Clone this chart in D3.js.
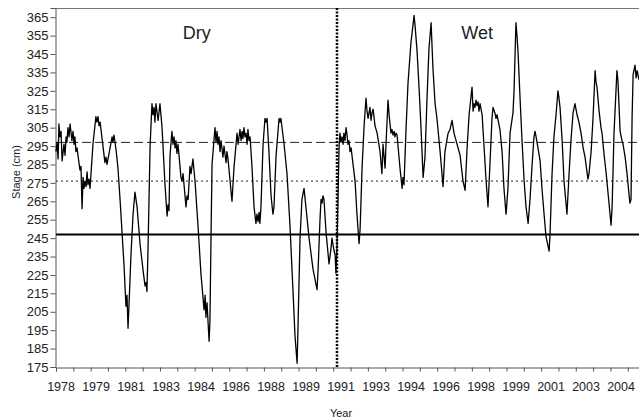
<!DOCTYPE html>
<html>
<head>
<meta charset="utf-8">
<script src="https://cdn.jsdelivr.net/npm/d3@7"></script>
<style>
body { margin: 0; background: #fff; }
text { font-family: "Liberation Sans", Arial, sans-serif; fill: #222; }
</style>
</head>
<body>
<div id="chart"></div>
<script>
// stage readings [decimal year, stage cm]
var dryRecord = [
  [1978.00,292],[1978.05,297],[1978.10,288],[1978.14,307],[1978.19,300],[1978.24,303],[1978.29,287],[1978.38,296],
  [1978.43,290],[1978.48,300],[1978.52,297],[1978.57,305],[1978.62,300],[1978.67,307],[1978.76,298],[1978.81,303],
  [1978.86,296],[1978.90,300],[1978.95,292],[1979.00,294],[1979.14,282],[1979.19,284],[1979.24,261],[1979.29,278],
  [1979.33,272],[1979.38,276],[1979.43,273],[1979.48,281],[1979.52,274],[1979.57,277],[1979.62,272],[1979.76,296],
  [1979.90,311],[1979.95,308],[1980.00,311],[1980.05,306],[1980.10,308],[1980.33,286],[1980.38,289],[1980.43,285],
  [1980.67,300],[1980.71,297],[1980.76,301],[1980.86,293],[1980.95,283],[1981.05,266],[1981.24,230],[1981.33,208],
  [1981.38,214],[1981.43,196],[1981.48,210],[1981.57,236],[1981.67,258],[1981.76,270],[1981.86,262],[1982.00,242],
  [1982.14,228],[1982.24,219],[1982.29,221],[1982.33,216],[1982.38,238],[1982.48,295],[1982.57,318],[1982.62,312],
  [1982.67,316],[1982.71,308],[1982.76,318],[1982.86,309],[1982.95,318],[1983.05,305],[1983.19,274],[1983.29,257],
  [1983.33,263],[1983.38,260],[1983.43,290],[1983.52,303],[1983.57,296],[1983.62,300],[1983.67,294],[1983.71,298],
  [1983.76,291],[1983.81,296],[1983.95,278],[1984.00,276],[1984.05,280],[1984.19,262],[1984.24,268],[1984.29,266],
  [1984.38,284],[1984.43,280],[1984.52,288],[1984.62,276],[1984.76,252],[1984.90,226],[1985.05,206],[1985.10,214],
  [1985.14,202],[1985.19,210],[1985.29,189],[1985.33,200],[1985.38,245],[1985.43,285],[1985.57,305],[1985.62,297],
  [1985.67,303],[1985.71,296],[1985.76,300],[1985.81,292],[1985.86,298],[1985.95,289],[1986.00,295],[1986.10,286],
  [1986.14,292],[1986.19,288],[1986.38,265],[1986.48,284],[1986.62,302],[1986.67,296],[1986.76,304],[1986.81,298],
  [1986.86,303],[1986.90,299],[1986.95,305],[1987.00,300],[1987.05,302],[1987.10,296],[1987.14,304],[1987.19,298],
  [1987.24,300],[1987.33,284],[1987.43,262],[1987.52,253],[1987.57,258],[1987.62,254],[1987.67,259],[1987.71,253],
  [1987.76,262],[1987.86,296],[1987.95,310],[1988.00,308],[1988.05,310],[1988.14,292],[1988.24,268],[1988.33,258],
  [1988.38,262],[1988.48,290],[1988.62,310],[1988.67,308],[1988.71,310],[1988.86,296],[1989.00,280],[1989.14,252],
  [1989.29,215],[1989.38,192],[1989.48,177],[1989.52,195],[1989.62,245],[1989.71,266],[1989.81,272],[1989.90,262],
  [1990.05,245],[1990.24,228],[1990.43,217],[1990.48,228],[1990.57,255],[1990.62,266],[1990.67,264],[1990.71,268],
  [1990.76,266],[1990.86,248],[1991.00,231],[1991.10,240],[1991.14,245],[1991.24,238],[1991.29,236],[1991.33,226],
  [1991.38,240]
];
var wetRecord = [
  [1991.48,295],[1991.52,302],[1991.57,297],[1991.62,300],[1991.67,296],[1991.71,302],[1991.76,298],[1991.81,305],
  [1991.86,301],[1991.90,296],[1991.95,298],[1992.00,292],[1992.05,294],[1992.24,276],[1992.33,258],[1992.43,242],
  [1992.48,250],[1992.57,282],[1992.67,306],[1992.76,321],[1992.81,314],[1992.86,310],[1992.95,316],[1993.00,309],
  [1993.05,313],[1993.10,315],[1993.19,306],[1993.29,302],[1993.43,292],[1993.52,280],[1993.57,296],[1993.67,283],
  [1993.71,295],[1993.81,320],[1993.86,312],[1993.95,302],[1994.00,304],[1994.05,301],[1994.10,303],[1994.14,300],
  [1994.19,302],[1994.24,301],[1994.38,283],[1994.48,272],[1994.52,278],[1994.57,274],[1994.67,305],[1994.76,329],
  [1994.90,351],[1995.05,366],[1995.10,360],[1995.19,347],[1995.29,326],[1995.38,305],[1995.48,278],[1995.57,289],
  [1995.67,322],[1995.76,348],[1995.86,362],[1995.95,337],[1996.05,318],[1996.14,310],[1996.29,292],[1996.43,273],
  [1996.52,292],[1996.67,302],[1996.76,304],[1996.86,309],[1996.95,302],[1997.05,298],[1997.24,290],[1997.38,276],
  [1997.48,271],[1997.57,293],[1997.67,312],[1997.81,327],[1997.86,314],[1997.90,318],[1997.95,316],[1998.00,320],
  [1998.05,317],[1998.10,319],[1998.14,314],[1998.19,318],[1998.29,312],[1998.38,295],[1998.48,276],[1998.57,262],
  [1998.67,287],[1998.76,310],[1998.81,316],[1998.90,313],[1998.95,310],[1999.00,312],[1999.14,304],[1999.24,292],
  [1999.33,272],[1999.43,258],[1999.52,272],[1999.62,302],[1999.76,313],[1999.81,325],[1999.90,362],[1999.95,355],
  [2000.00,346],[2000.10,320],[2000.19,298],[2000.29,276],[2000.38,262],[2000.48,253],[2000.57,266],[2000.67,285],
  [2000.76,300],[2000.81,303],[2000.86,300],[2000.95,294],[2001.05,287],[2001.14,272],[2001.24,258],[2001.33,246],
  [2001.48,238],[2001.52,246],[2001.62,280],[2001.71,300],[2001.81,312],[2001.90,325],[2001.95,321],[2002.00,316],
  [2002.10,298],[2002.19,276],[2002.33,258],[2002.43,280],[2002.52,298],[2002.62,313],[2002.71,318],[2002.81,312],
  [2002.90,308],[2003.00,302],[2003.10,294],[2003.19,289],[2003.33,277],[2003.38,280],[2003.48,292],[2003.57,310],
  [2003.67,336],[2003.71,330],[2003.76,327],[2003.86,314],[2003.95,305],[2004.00,302],[2004.10,290],[2004.19,281],
  [2004.29,269],[2004.43,252],[2004.48,262],[2004.57,302],[2004.71,336],[2004.76,330],[2004.86,303],[2004.95,298],
  [2005.00,296],[2005.10,289],[2005.19,280],[2005.29,268],[2005.33,264],[2005.38,266],[2005.43,310],[2005.48,334],
  [2005.57,339],[2005.62,332],[2005.67,336],[2005.76,331]
];

var stageTicks = [175,185,195,205,215,225,235,245,255,265,275,285,295,305,315,325,335,345,355,365];
var yearLabels = ["1978","1979","1981","1983","1984","1986","1988","1989","1991",
                  "1993","1994","1996","1998","1999","2001","2003","2004"];
var periodNames = ["Dry", "Wet"];
var periodLabelYear = [1984.7, 1998.05];
var splitYear = 1991.38;
var lowLevel = 247, midLevel = 276, highLevel = 297;

var w = 639,
    h = 419,
    m = [8, 0, 52, 56]; // top right bottom left

var x = d3.scaleLinear().domain([1978, 2005.76]).range([m[3], w - m[1]]);
var y = d3.scaleLinear().domain([175, 370]).range([h - m[2], m[0]]);

var svg = d3.select("#chart").append("svg")
    .attr("width", w)
    .attr("height", h);

svg.append("rect").attr("width", w).attr("height", h).attr("fill", "#fff");

// top frame line
svg.append("line")
    .attr("x1", m[3]).attr("x2", w)
    .attr("y1", m[0] + 0.5).attr("y2", m[0] + 0.5)
    .attr("stroke", "#777").attr("stroke-width", 1);

// y axis
var yAxis = svg.append("g")
    .attr("transform", "translate(" + (m[3] - 0.5) + ",0)")
    .call(d3.axisLeft(y).tickValues(stageTicks).tickSize(5).tickPadding(2));
yAxis.selectAll("text").style("font-size", "13px").attr("fill", "#222");

// x axis: small ticks every ~0.825 yr, labels every 5/3 yr
var minorTicks = d3.range(1978, 2005.76, 0.825);
var labelPos = yearLabels.map(function(d, i) { return 1978.24 + i * 5 / 3; });

svg.append("g")
    .attr("transform", "translate(0," + (h - m[2] + 0.5) + ")")
    .call(d3.axisBottom(x).tickValues(minorTicks).tickSize(4).tickFormat(""));
svg.selectAll(".domain, .tick line").attr("stroke", "#555");

svg.append("g").selectAll("text.yr")
    .data(yearLabels)
  .enter().append("text")
    .attr("class", "yr")
    .attr("x", function(d, i) { return x(labelPos[i]); })
    .attr("y", h - m[2] + 24)
    .attr("text-anchor", "middle")
    .style("font-size", "12.5px")
    .text(function(d) { return d; });

// reference levels
svg.append("line")
    .attr("x1", m[3]).attr("x2", w)
    .attr("y1", y(lowLevel)).attr("y2", y(lowLevel))
    .attr("stroke", "#000").attr("stroke-width", 2);
svg.append("line")
    .attr("x1", m[3]).attr("x2", w)
    .attr("y1", y(highLevel)).attr("y2", y(highLevel))
    .attr("stroke", "#222").attr("stroke-width", 1)
    .attr("stroke-dasharray", "9,4");
svg.append("line")
    .attr("x1", m[3]).attr("x2", w)
    .attr("y1", y(midLevel)).attr("y2", y(midLevel))
    .attr("stroke", "#222").attr("stroke-width", 1)
    .attr("stroke-dasharray", "2,3");

// stage line
var line = d3.line()
    .x(function(d) { return x(d[0]); })
    .y(function(d) { return y(d[1]); });

svg.append("path")
    .datum(dryRecord.concat(wetRecord))
    .attr("fill", "none")
    .attr("stroke", "#000")
    .attr("stroke-width", 1.3)
    .attr("stroke-linejoin", "round")
    .attr("d", line);

// dry / wet split
svg.append("line")
    .attr("x1", x(splitYear)).attr("x2", x(splitYear))
    .attr("y1", m[0]).attr("y2", h - m[2])
    .attr("stroke", "#000").attr("stroke-width", 2.5)
    .attr("stroke-dasharray", "2,1.5");

svg.selectAll("text.period")
    .data(periodNames)
  .enter().append("text")
    .attr("class", "period")
    .attr("x", function(d, i) { return x(periodLabelYear[i]); })
    .attr("y", 39)
    .attr("text-anchor", "middle")
    .style("font-size", "18px")
    .text(function(d) { return d; });

// axis titles
svg.append("text")
    .attr("transform", "translate(20,172) rotate(-90)")
    .attr("text-anchor", "middle")
    .style("font-size", "11px")
    .text("Stage (cm)");

svg.append("text")
    .attr("x", 341)
    .attr("y", 417)
    .attr("text-anchor", "middle")
    .style("font-size", "11px")
    .text("Year");
</script>
</body>
</html>
